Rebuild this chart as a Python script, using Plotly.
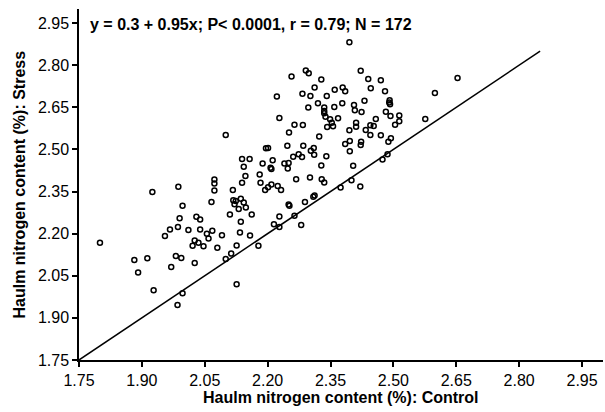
import plotly.graph_objects as go

# Haulm nitrogen content (%) - Control (x) vs Stress (y)
control = [
    1.800, 1.882, 1.891, 1.913, 1.925, 1.928, 1.955, 1.967, 1.970, 1.981,
    1.985, 1.986, 1.987, 1.990, 1.994, 1.997, 1.997, 2.011, 2.021, 2.026,
    2.026, 2.030, 2.035, 2.039, 2.039, 2.047, 2.055, 2.059, 2.066, 2.068,
    2.073, 2.073, 2.073, 2.080, 2.091, 2.100, 2.100, 2.110, 2.113, 2.117,
    2.118, 2.121, 2.124, 2.126, 2.126, 2.131, 2.134, 2.136, 2.136, 2.139,
    2.139, 2.143, 2.143, 2.147, 2.148, 2.157, 2.158, 2.162, 2.178, 2.181,
    2.183, 2.188, 2.194, 2.196, 2.201, 2.201, 2.207, 2.209, 2.209, 2.212,
    2.215, 2.222, 2.224, 2.228, 2.228, 2.228, 2.232, 2.240, 2.247, 2.248,
    2.250, 2.250, 2.251, 2.252, 2.257, 2.261, 2.264, 2.264, 2.268, 2.274,
    2.280, 2.282, 2.283, 2.284, 2.285, 2.289, 2.291, 2.297, 2.298, 2.301,
    2.302, 2.303, 2.309, 2.310, 2.311, 2.312, 2.312, 2.320, 2.323, 2.328,
    2.328, 2.329, 2.335, 2.335, 2.335, 2.335, 2.338, 2.340, 2.341, 2.342,
    2.349, 2.353, 2.356, 2.359, 2.360, 2.368, 2.374, 2.378, 2.379, 2.385,
    2.385, 2.395, 2.395, 2.396, 2.396, 2.400, 2.404, 2.406, 2.408, 2.411,
    2.411, 2.421, 2.422, 2.422, 2.423, 2.424, 2.431, 2.434, 2.440, 2.445,
    2.445, 2.446, 2.453, 2.458, 2.470, 2.470, 2.474, 2.480, 2.482, 2.486,
    2.488, 2.490, 2.491, 2.492, 2.493, 2.494, 2.504, 2.514, 2.514, 2.576,
    2.599, 2.653,
]
stress = [
    2.168, 2.106, 2.062, 2.112, 2.348, 1.998, 2.192, 2.215, 2.081, 2.120,
    1.946, 2.224, 2.367, 2.255, 2.113, 2.299, 1.988, 2.213, 2.157, 2.095,
    2.176, 2.260, 2.168, 2.215, 2.250, 2.155, 2.200, 2.183, 2.313, 2.210,
    2.393, 2.379, 2.354, 2.150, 2.194, 2.551, 2.110, 2.268, 2.129, 2.355,
    2.319, 2.305, 2.316, 2.158, 2.020, 2.288, 2.204, 2.242, 2.324, 2.381,
    2.466, 2.311, 2.438, 2.405, 2.293, 2.466, 2.193, 2.268, 2.157, 2.411,
    2.381, 2.450, 2.355, 2.504, 2.505, 2.365, 2.435, 2.375, 2.430, 2.461,
    2.233, 2.688, 2.370, 2.612, 2.261, 2.224, 2.355, 2.450, 2.513, 2.432,
    2.304, 2.452, 2.560, 2.299, 2.760, 2.474, 2.588, 2.264, 2.394, 2.483,
    2.231, 2.473, 2.698, 2.587, 2.513, 2.313, 2.781, 2.649, 2.771, 2.400,
    2.690, 2.495, 2.331, 2.505, 2.481, 2.720, 2.336, 2.664, 2.546, 2.443,
    2.749, 2.394, 2.649, 2.637, 2.629, 2.382, 2.616, 2.476, 2.690, 2.580,
    2.607, 2.595, 2.582, 2.651, 2.712, 2.611, 2.364, 2.664, 2.720, 2.707,
    2.519, 2.882, 2.568, 2.530, 2.493, 2.390, 2.442, 2.658, 2.639, 2.595,
    2.581, 2.368, 2.780, 2.516, 2.527, 2.633, 2.673, 2.569, 2.751, 2.586,
    2.551, 2.718, 2.583, 2.608, 2.746, 2.550, 2.464, 2.707, 2.634, 2.483,
    2.527, 2.667, 2.675, 2.661, 2.619, 2.540, 2.588, 2.621, 2.600, 2.608,
    2.701, 2.754,
]

# 1:1 reference line endpoints
line_x = [1.75, 2.85]
line_y = [1.75, 2.85]

tick_vals = [1.75, 1.90, 2.05, 2.20, 2.35, 2.50, 2.65, 2.80, 2.95]
tick_text = ["1.75", "1.90", "2.05", "2.20", "2.35", "2.50", "2.65", "2.80", "2.95"]

equation = "y = 0.3 + 0.95x; P< 0.0001, r = 0.79; N = 172"
x_title = "Haulm nitrogen content (%): Control"
y_title = "Haulm nitrogen content (%): Stress"

FONT = "Arial, Liberation Sans, sans-serif"

fig = go.Figure()
fig.add_trace(go.Scatter(
    x=line_x, y=line_y, mode="lines",
    line=dict(color="black", width=1.5), hoverinfo="skip", showlegend=False,
))
fig.add_trace(go.Scatter(
    x=control, y=stress, mode="markers",
    marker=dict(symbol="circle-open", size=5, color="black", line=dict(width=1.5, color="black")),
    showlegend=False,
))

axis_common = dict(
    range=[1.75, 3.0], tickmode="array", tickvals=tick_vals, ticktext=tick_text,
    showgrid=False, zeroline=False, showline=True, linecolor="black", linewidth=1.5,
    ticks="outside", ticklen=5, tickwidth=1.5, tickcolor="black",
    tickfont=dict(family=FONT, size=16, color="black"), mirror=False,
)
fig.update_xaxes(**axis_common)
fig.update_yaxes(**axis_common)

fig.update_layout(
    width=605, height=412,
    margin=dict(l=79, r=2, t=9, b=52),
    paper_bgcolor="white", plot_bgcolor="white",
    font=dict(family=FONT, color="black"),
    annotations=[
        dict(text="<b>" + equation + "</b>", xref="paper", yref="paper",
             x=0.0172, y=0.957, xanchor="left", yanchor="middle", showarrow=False,
             font=dict(family=FONT, size=16, color="black")),
        dict(text="<b>" + x_title + "</b>", xref="paper", yref="paper",
             x=0.5, y=-0.108, xanchor="center", yanchor="middle", showarrow=False,
             font=dict(family=FONT, size=16, color="black")),
        dict(text="<b>" + y_title + "</b>", xref="paper", yref="paper",
             x=-0.1145, y=0.5, xanchor="center", yanchor="middle", showarrow=False,
             textangle=-90, font=dict(family=FONT, size=16, color="black")),
    ],
)

fig.write_html(
    "out.html",
    config={"displayModeBar": False},
    post_script="document.body.style.margin='0';document.body.style.overflow='hidden';",
)
